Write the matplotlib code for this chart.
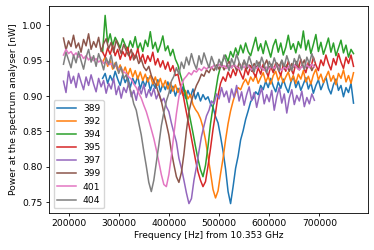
import numpy as np
import matplotlib
matplotlib.use("Agg")
import matplotlib.pyplot as plt

# two sweep windows (Hz from 10.353 GHz)
sweep_a = (190000, 690000)   # 397, 399, 401, 404
sweep_b = (268000, 768000)   # 389, 392, 394, 395

p389 = [0.925, 0.932, 0.918, 0.929, 0.921, 0.935, 0.924, 0.915, 0.930, 0.919,
        0.927, 0.912, 0.925, 0.917, 0.928, 0.910, 0.922, 0.914, 0.926, 0.908,
        0.919, 0.911, 0.923, 0.906, 0.917, 0.909, 0.920, 0.904, 0.914, 0.900,
        0.911, 0.903, 0.913, 0.897, 0.908, 0.899, 0.910, 0.896, 0.905, 0.893,
        0.902, 0.895, 0.899, 0.889, 0.884, 0.871, 0.862, 0.843, 0.822, 0.797,
        0.765, 0.748, 0.772, 0.798, 0.815, 0.838, 0.851, 0.867, 0.879, 0.892,
        0.897, 0.906, 0.902, 0.915, 0.909, 0.921, 0.912, 0.925, 0.914, 0.906,
        0.920, 0.911, 0.924, 0.913, 0.905, 0.919, 0.928, 0.912, 0.921, 0.908,
        0.917, 0.926, 0.910, 0.919, 0.904, 0.915, 0.923, 0.909, 0.918, 0.927,
        0.911, 0.903, 0.916, 0.924, 0.908, 0.915, 0.899, 0.912, 0.905, 0.918,
        0.890]
p392 = [0.948, 0.955, 0.942, 0.951, 0.938, 0.947, 0.936, 0.944, 0.932, 0.941,
        0.929, 0.939, 0.927, 0.936, 0.924, 0.934, 0.922, 0.931, 0.920, 0.929,
        0.917, 0.927, 0.915, 0.925, 0.913, 0.922, 0.910, 0.919, 0.907, 0.916,
        0.905, 0.912, 0.901, 0.908, 0.896, 0.902, 0.888, 0.881, 0.876, 0.868,
        0.856, 0.838, 0.815, 0.792, 0.768, 0.756, 0.766, 0.790, 0.812, 0.838,
        0.861, 0.879, 0.893, 0.904, 0.912, 0.909, 0.918, 0.924, 0.916, 0.927,
        0.921, 0.930, 0.918, 0.926, 0.933, 0.920, 0.928, 0.917, 0.929, 0.935,
        0.922, 0.930, 0.919, 0.927, 0.934, 0.921, 0.929, 0.918, 0.931, 0.924,
        0.936, 0.920, 0.928, 0.917, 0.930, 0.938, 0.923, 0.931, 0.919, 0.927,
        0.935, 0.921, 0.929, 0.916, 0.932, 0.925, 0.937, 0.920, 0.929, 0.918,
        0.933]
p394 = [0.962, 1.014, 0.975, 0.988, 0.971, 0.983, 0.976, 0.968, 0.981, 0.972,
        0.965, 0.978, 0.969, 0.984, 0.966, 0.975, 0.963, 0.979, 0.970, 0.991,
        0.967, 0.976, 0.962, 0.972, 0.985, 0.964, 0.971, 0.957, 0.966, 0.952,
        0.944, 0.930, 0.918, 0.902, 0.885, 0.866, 0.848, 0.829, 0.811, 0.796,
        0.786, 0.802, 0.829, 0.861, 0.885, 0.906, 0.928, 0.942, 0.951, 0.958,
        0.949, 0.963, 0.955, 0.968, 0.958, 0.972, 0.961, 0.975, 0.963, 0.957,
        0.970, 0.983, 0.964, 0.974, 0.960, 0.978, 0.967, 0.955, 0.971, 0.980,
        0.962, 0.975, 0.958, 0.969, 0.986, 0.966, 0.974, 0.961, 0.977, 0.968,
        0.992, 0.965, 0.979, 0.960, 0.973, 0.987, 0.963, 0.976, 0.959, 0.970,
        0.982, 0.962, 0.975, 0.957, 0.968, 0.979, 0.961, 0.972, 0.955, 0.966,
        0.960]
p395 = [0.962, 0.955, 0.968, 0.959, 0.971, 0.957, 0.966, 0.952, 0.963, 0.956,
        0.969, 0.951, 0.961, 0.954, 0.967, 0.950, 0.959, 0.946, 0.957, 0.949,
        0.962, 0.944, 0.953, 0.941, 0.950, 0.938, 0.948, 0.935, 0.943, 0.929,
        0.931, 0.915, 0.903, 0.884, 0.866, 0.848, 0.829, 0.810, 0.793, 0.781,
        0.772, 0.779, 0.801, 0.826, 0.853, 0.876, 0.901, 0.918, 0.927, 0.921,
        0.934, 0.926, 0.938, 0.929, 0.941, 0.932, 0.924, 0.939, 0.930, 0.943,
        0.934, 0.927, 0.940, 0.931, 0.945, 0.936, 0.928, 0.942, 0.933, 0.947,
        0.937, 0.929, 0.944, 0.935, 0.949, 0.939, 0.931, 0.946, 0.938, 0.952,
        0.941, 0.933, 0.948, 0.940, 0.955, 0.944, 0.936, 0.951, 0.943, 0.958,
        0.946, 0.937, 0.953, 0.944, 0.960, 0.948, 0.939, 0.955, 0.946, 0.958,
        0.942]
p397 = [0.921, 0.905, 0.935, 0.918, 0.928, 0.912, 0.932, 0.920, 0.909, 0.927,
        0.915, 0.930, 0.917, 0.906, 0.925, 0.913, 0.922, 0.904, 0.918, 0.910,
        0.925, 0.902, 0.914, 0.897, 0.912, 0.905, 0.919, 0.899, 0.908, 0.894,
        0.913, 0.903, 0.916, 0.898, 0.909, 0.900, 0.911, 0.896, 0.905, 0.892,
        0.897, 0.885, 0.878, 0.862, 0.848, 0.835, 0.812, 0.798, 0.781, 0.763,
        0.748, 0.755, 0.781, 0.800, 0.822, 0.843, 0.858, 0.872, 0.880, 0.893,
        0.889, 0.903, 0.896, 0.912, 0.899, 0.907, 0.891, 0.910, 0.898, 0.915,
        0.893, 0.906, 0.887, 0.902, 0.913, 0.894, 0.905, 0.884, 0.900, 0.911,
        0.889, 0.902, 0.892, 0.908, 0.880, 0.899, 0.912, 0.890, 0.903, 0.876,
        0.897, 0.909, 0.888, 0.901, 0.893, 0.907, 0.885, 0.898, 0.889, 0.903,
        0.894]
p399 = [0.982, 0.965, 0.978, 0.970, 0.986, 0.968, 0.975, 0.962, 0.980, 0.971,
        0.988, 0.966, 0.977, 0.969, 0.983, 0.963, 0.974, 0.981, 0.967, 0.976,
        0.962, 0.979, 0.970, 0.960, 0.973, 0.964, 0.957, 0.966, 0.951, 0.958,
        0.946, 0.952, 0.941, 0.936, 0.942, 0.929, 0.921, 0.914, 0.903, 0.893,
        0.876, 0.861, 0.845, 0.822, 0.803, 0.786, 0.778, 0.792, 0.818, 0.851,
        0.878, 0.893, 0.905, 0.915, 0.922, 0.931, 0.928, 0.937, 0.933, 0.941,
        0.936, 0.944, 0.938, 0.946, 0.937, 0.943, 0.949, 0.940, 0.945, 0.936,
        0.947, 0.941, 0.950, 0.938, 0.944, 0.935, 0.946, 0.940, 0.948, 0.937,
        0.943, 0.951, 0.939, 0.945, 0.936, 0.947, 0.942, 0.950, 0.938, 0.944,
        0.935, 0.946, 0.940, 0.949, 0.937, 0.943, 0.951, 0.939, 0.945, 0.936,
        0.944]
p401 = [0.958, 0.966, 0.960, 0.963, 0.957, 0.961, 0.955, 0.959, 0.953, 0.957,
        0.951, 0.955, 0.950, 0.953, 0.948, 0.951, 0.946, 0.949, 0.944, 0.946,
        0.941, 0.943, 0.938, 0.939, 0.934, 0.932, 0.927, 0.924, 0.917, 0.912,
        0.904, 0.897, 0.887, 0.878, 0.866, 0.853, 0.840, 0.824, 0.807, 0.789,
        0.775, 0.772, 0.789, 0.815, 0.846, 0.875, 0.899, 0.915, 0.924, 0.928,
        0.933, 0.930, 0.936, 0.934, 0.939, 0.936, 0.941, 0.938, 0.942, 0.939,
        0.944, 0.940, 0.945, 0.941, 0.943, 0.939, 0.944, 0.940, 0.945, 0.941,
        0.938, 0.943, 0.940, 0.945, 0.941, 0.937, 0.942, 0.939, 0.944, 0.940,
        0.936, 0.941, 0.938, 0.943, 0.939, 0.944, 0.940, 0.936, 0.941, 0.938,
        0.943, 0.939, 0.944, 0.940, 0.937, 0.942, 0.939, 0.944, 0.940, 0.945,
        0.941]
p404 = [0.945, 0.962, 0.951, 0.940, 0.958, 0.947, 0.963, 0.950, 0.938, 0.955,
        0.966, 0.948, 0.957, 0.942, 0.960, 0.949, 0.937, 0.954, 0.945, 0.958,
        0.939, 0.948, 0.932, 0.941, 0.925, 0.930, 0.915, 0.905, 0.889, 0.880,
        0.862, 0.845, 0.822, 0.801, 0.778, 0.765, 0.781, 0.806, 0.831, 0.858,
        0.877, 0.893, 0.904, 0.921, 0.928, 0.940, 0.931, 0.948, 0.939, 0.955,
        0.944, 0.960, 0.947, 0.938, 0.957, 0.945, 0.961, 0.950, 0.940, 0.956,
        0.946, 0.937, 0.952, 0.943, 0.958, 0.947, 0.936, 0.953, 0.944, 0.959,
        0.948, 0.937, 0.951, 0.942, 0.956, 0.945, 0.934, 0.950, 0.941, 0.955,
        0.944, 0.933, 0.949, 0.940, 0.954, 0.943, 0.935, 0.951, 0.942, 0.957,
        0.946, 0.936, 0.953, 0.944, 0.958, 0.947, 0.938, 0.955, 0.946, 0.960,
        0.949]

series = [("389", sweep_b, p389), ("392", sweep_b, p392), ("394", sweep_b, p394),
          ("395", sweep_b, p395), ("397", sweep_a, p397), ("399", sweep_a, p399),
          ("401", sweep_a, p401), ("404", sweep_a, p404)]

fs = 6.6
plt.rcParams.update({"font.size": fs, "axes.linewidth": 0.6,
                     "xtick.major.size": 2.5, "ytick.major.size": 2.5,
                     "xtick.major.width": 0.6, "ytick.major.width": 0.6,
                     "xtick.major.pad": 2, "ytick.major.pad": 2})

fig = plt.figure(figsize=(3.74, 2.5), dpi=100)
ax = fig.add_axes([0.131, 0.148, 0.853, 0.828])
for lab, (f0, f1), y in series:
    ax.plot(np.linspace(f0, f1, len(y)), y, lw=1.1, label=lab)

ax.set_xticks([200000, 300000, 400000, 500000, 600000, 700000])
ax.set_yticks([0.75, 0.80, 0.85, 0.90, 0.95, 1.00])
ax.set_xlabel("Frequency [Hz] from 10.353 GHz", labelpad=2)
ax.set_ylabel("Power at the spectrum analyser [nW]", labelpad=3)
ax.legend(loc="lower left", fontsize=fs, handlelength=2.0, borderpad=0.4,
          labelspacing=0.45, frameon=True, framealpha=0.8)
fig.savefig("out.png", dpi=100)
